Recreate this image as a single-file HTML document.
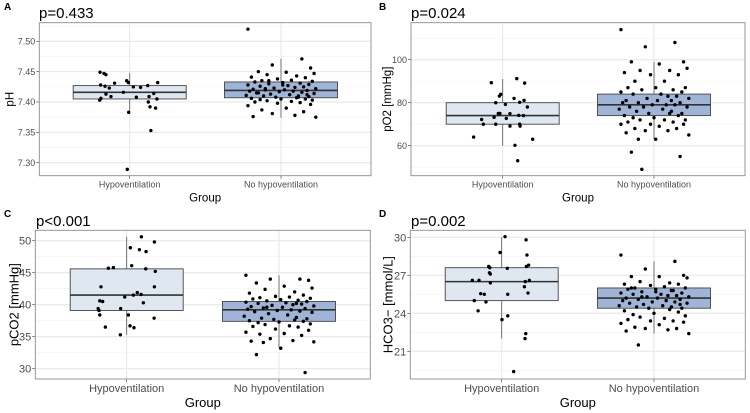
<!DOCTYPE html>
<html><head><meta charset="utf-8"><style>
body{margin:0;background:#fff;}
svg{display:block;font-family:"Liberation Sans",sans-serif;}
</style></head><body>
<svg id="c" width="750" height="413" viewBox="0 0 750 413"></svg>
<script>
const categories=["Hypoventilation","No hypoventilation"];
const jNo=[-0.19,0.12,-0.05,0.17,-0.13,0.03,0.19,-0.08,0.09,-0.17,0.14,-0.02,0.06,-0.11,0.18,-0.15,0.01,0.11,-0.07,0.16,-0.19,0.04,-0.12,0.13,0.08,-0.04,0.2,-0.16,0.02,-0.09,0.15,-0.18,0.07,-0.01,0.12,-0.14,0.19,-0.06,0.05,-0.2,0.1,-0.1,0.16,-0.03,0.09,-0.17,0.14,0.0,-0.12,0.18,-0.08,0.06,-0.15,0.11,-0.02,0.17,-0.19,0.03,-0.11,0.13,-0.05,0.08,-0.16,0.2,-0.09,0.01,-0.13,0.15,-0.07,0.1];
// Panel A
const aTicks=[7.30,7.35,7.40,7.45,7.50];
const aHypoVals=[7.449,7.447,7.445,7.428,7.426,7.423,7.431,7.435,7.432,7.425,7.424,7.427,7.432,7.416,7.413,7.409,7.406,7.403,7.408,7.414,7.409,7.405,7.400,7.392,7.390,7.383,7.353,7.289];
const aHypoJit=[-0.196,-0.17,-0.157,-0.192,-0.163,-0.135,-0.10,-0.02,-0.009,0.024,0.072,0.119,0.185,-0.042,-0.157,-0.124,-0.19,-0.198,0.044,0.159,0.128,0.18,0.123,0.134,0.171,-0.007,0.14,-0.016];
const aNoVals=[7.52,7.471,7.461,7.456,7.45,7.449,7.447,7.445,7.443,7.441,7.44,7.438,7.436,7.435,7.434,7.433,7.432,7.431,7.43,7.429,7.428,7.427,7.426,7.425,7.424,7.423,7.422,7.421,7.42,7.42,7.419,7.418,7.418,7.417,7.416,7.415,7.414,7.413,7.412,7.411,7.41,7.41,7.409,7.408,7.407,7.406,7.405,7.405,7.404,7.403,7.402,7.401,7.4,7.399,7.398,7.396,7.394,7.39,7.387,7.384,7.381,7.378,7.376,7.375,7.422,7.428,7.415,7.412,7.435,7.408];
const aStats=[[7.383,7.405,7.416,7.427,7.448],[7.374,7.407,7.419,7.433,7.471]];
// Panel B
const bTicks=[60,80,100];
const bHypoVals=[89.3,91.2,89.1,83.9,83.1,82,80,79.2,81.1,80.2,78,75,75,74.9,73.2,72.7,74.1,74,72.2,70,70,69.1,70,69.1,64,63,60.2,53];
const bHypoJit=[-0.075,0.093,0.145,-0.013,-0.022,0.075,-0.046,0.018,0.141,0.112,0.163,-0.029,-0.018,0.048,-0.057,0.024,0.106,0.137,-0.139,-0.128,-0.046,0.048,0.112,0.115,-0.192,0.198,0.081,0.099];
const bNoVals=[114,108,106,99,99,98,96,95,95,94,93,93,90,90,87,87,87,86,86,85,85,84,84,83,83,82,82,81,81,80,80,80,79,79,79,78,78,78,77,77,76,76,75,75,75,74,74,73,73,72,72,72,71,71,70,70,70,69,68,68,67,67,66,65,63,63,57,55,49,81];
const bStats=[[60,70,74,80,91],[63,74,79,84,99]];
// Panel C
const cTicks=[30,35,40,45,50];
const cHypoVals=[50.6,49.8,48.9,48.6,48.3,46.1,45.7,45.8,45.6,45.2,42.8,42.8,41.9,41.6,41.5,41.2,40.3,40.6,40.5,39.4,39.1,39.4,38.4,38.4,37.9,36.7,36.4,36.5,35.3];
const cHypoJit=[0.097,0.183,0.024,0.084,0.128,0.033,-0.121,-0.088,0.126,0.189,-0.17,0.183,0.07,0.095,0.044,-0.013,0.11,-0.178,-0.159,-0.189,-0.183,-0.04,-0.178,0.011,0.181,0.022,0.048,-0.141,-0.042];
const cNoVals=[44.6,44.0,44.0,43.8,43.4,42.9,42.6,42.4,42.0,41.8,41.5,41.3,41.2,41.1,41.0,40.9,40.8,40.7,40.6,40.5,40.4,40.3,40.2,40.1,40.0,39.9,39.8,39.7,39.6,39.5,39.4,39.3,39.2,39.1,39.0,38.9,38.8,38.6,38.4,38.2,38.0,37.9,37.8,37.7,37.6,37.5,37.4,37.3,37.2,37.0,36.9,36.7,36.6,36.5,36.2,36.0,35.7,35.5,35.4,35.2,34.7,34.4,34.3,34.2,34.1,33.2,32.2,29.4,39.6,40.2];
const cStats=[[35.3,39.1,41.5,45.6,50.6],[33.3,37.4,39.2,40.5,44.6]];
// Panel D
const dTicks=[21,24,27,30];
const dHypoVals=[30.05,29.8,28.8,28.6,27.7,27.6,27.55,27.8,27.7,27.2,27.1,26.4,26.6,26.6,26.6,26.5,26.1,25.6,25.55,25.5,25.5,25.0,24.9,24.2,23.8,23.5,22.4,22.0,19.4];
const dHypoJit=[0.022,0.161,-0.011,0.167,-0.086,-0.079,0.037,0.178,0.163,-0.081,-0.075,-0.075,-0.194,-0.15,0.183,0.156,0.15,0.174,-0.139,-0.115,0.04,-0.181,-0.104,-0.156,0.04,0.002,0.159,0.154,0.079];
const dNoVals=[28.6,28.1,27.5,27.0,26.9,26.9,26.8,26.5,26.4,26.3,26.3,26.2,26.1,26.0,26.0,25.9,25.9,25.8,25.7,25.6,25.6,25.5,25.5,25.4,25.4,25.3,25.3,25.2,25.2,25.1,25.1,25.0,25.0,24.9,24.9,24.8,24.8,24.7,24.6,24.6,24.5,24.5,24.4,24.4,24.3,24.2,24.1,24.0,23.9,23.8,23.7,23.6,23.5,23.4,23.4,23.3,23.2,23.1,22.9,22.8,22.8,22.7,22.6,22.4,21.5,25.7,26.0,24.7,25.3,25.8];
const dStats=[[22.0,25.0,26.5,27.6,30.0],[22.4,24.4,25.2,26.0,28.1]];

const NS="http://www.w3.org/2000/svg";
const svg=document.getElementById('c');
function mk(tag,attrs,parent,text){const e=document.createElementNS(NS,tag);for(const k in attrs)e.setAttribute(k,attrs[k]);if(text!==undefined)e.textContent=text;(parent||svg).appendChild(e);return e;}

const panels=[
 {id:'a',letter:'A',p:'p=0.433',ytitle:'pH',x0:39.3,x1:371,y0:22.7,y1:175.7,t1:7.50,py1:41.3,t2:7.30,py2:162.7,ticks:aTicks,dec:2,cats:[129.7,281],hv:aHypoVals,hj:aHypoJit,nv:aNoVals,stats:aStats,ly:10,tY:15,tf:9,af:11.5,xo:12,go:26,yo:26,lx:4,px:39},
 {id:'b',letter:'B',p:'p=0.024',ytitle:'pO2 [mmHg]',x0:411,x1:745,y0:22.7,y1:175.7,t1:100,py1:59.7,t2:60,py2:145.7,ticks:bTicks,dec:0,cats:[502.7,654],hv:bHypoVals,hj:bHypoJit,nv:bNoVals,stats:bStats,ly:10,tY:15,tf:9,af:11.5,xo:12,go:26,yo:20,lx:379,px:411},
 {id:'c',letter:'C',p:'p<0.001',ytitle:'pCO2 [mmHg]',x0:35.3,x1:370.3,y0:230.3,y1:379,t1:50,py1:240.7,t2:30,py2:368.7,ticks:cTicks,dec:0,cats:[126.7,279],hv:cHypoVals,hj:cHypoJit,nv:cNoVals,stats:cStats,ly:217,tY:223,tf:11,af:13,xo:13,go:28,yo:17,lx:4,px:36},
 {id:'d',letter:'D',p:'p=0.002',ytitle:'HCO3− [mmol/L]',x0:410.3,x1:745.3,y0:230.3,y1:379,t1:30,py1:237.3,t2:21,py2:351.3,ticks:dTicks,dec:0,cats:[501.7,654],hv:dHypoVals,hj:dHypoJit,nv:dNoVals,stats:dStats,ly:217,tY:223,tf:11,af:13,xo:13,go:28,yo:18,lx:379,px:411}
];
const CAT=151.3;
panels.forEach(P=>{
  const g=mk('g',{});
  
  
  const y=v=>P.py1+(v-P.t1)*(P.py2-P.py1)/(P.t2-P.t1);
  const x=(c,j)=>P.cats[c]+j*CAT;
  const lab=mk('text',{x:P.lx,y:P.ly,'font-size':10,'font-weight':'bold',fill:'#000'},g,P.letter);
  
  
  const pt=mk('text',{x:P.px,y:P.tY+3,'font-size':15,fill:'#000'},g,P.p);
  
  
  const step=P.ticks[1]-P.ticks[0];
  for(let k=-1;k<P.ticks.length+1;k++){
    const ym=y(P.ticks[0]+step*k+step/2);
    if(ym>P.y0&&ym<P.y1) mk('line',{x1:P.x0,x2:P.x1,y1:ym,y2:ym,stroke:'#f2f2f2','stroke-width':0.6},g);
  }
  P.ticks.forEach(t=>{
    const yy=y(t);
    mk('line',{x1:P.x0,x2:P.x1,y1:yy,y2:yy,stroke:'#e6e6e6','stroke-width':1},g);
    mk('line',{x1:P.x0-3,x2:P.x0,y1:yy,y2:yy,stroke:'#333','stroke-width':0.6},g);
    const tl=mk('text',{x:P.x0-4,y:yy+P.tf*0.36,'font-size':P.tf,fill:'#4d4d4d','text-anchor':'end'},g,t.toFixed(P.dec));
    
    
  });
  categories.forEach((c,i)=>{
    const cx=P.cats[i];
    mk('line',{x1:cx,x2:cx,y1:P.y0,y2:P.y1,stroke:'#e6e6e6','stroke-width':1},g);
    mk('line',{x1:cx,x2:cx,y1:P.y1,y2:P.y1+3,stroke:'#333','stroke-width':0.6},g);
    const xl=mk('text',{x:cx,y:P.y1+P.xo,'font-size':P.tf,fill:'#4d4d4d','text-anchor':'middle'},g,c);
    
    
    const s=P.stats[i];
    const wh=mk('line',{x1:cx,x2:cx,y1:y(s[0]),y2:y(s[4]),stroke:'#555','stroke-width':0.8},g);
    
    
    const bx=mk('rect',{x:cx-56.5,width:113,y:y(s[3]),height:y(s[1])-y(s[3]),fill:i===0?'#dfe7f1':'#9fb4d6',stroke:'#444','stroke-width':0.9},g);
    
    
    const md=mk('line',{x1:cx-56.5,x2:cx+56.5,y1:y(s[2]),y2:y(s[2]),stroke:'#333','stroke-width':1.6},g);
    
    
  });
  P.hv.forEach((v,k)=>{
    const c=mk('circle',{cx:x(0,P.hj[k]),cy:y(v),r:1.7,fill:'#000'},g);
    
    
  });
  P.nv.forEach((v,k)=>{
    const c=mk('circle',{cx:x(1,jNo[k%jNo.length]*1.15),cy:y(v),r:1.7,fill:'#000'},g);
    
    
  });
  const fr=mk('rect',{x:P.x0,y:P.y0,width:P.x1-P.x0,height:P.y1-P.y0,fill:'none',stroke:'#8c8c8c','stroke-width':0.9},g);
  
  
  const xt=mk('text',{x:(P.x0+P.x1)/2,y:P.y1+P.go,'font-size':P.af,fill:'#000','text-anchor':'middle'},g,'Group');
  
  
  const ytx=P.x0-P.yo;
  const yt=mk('text',{x:ytx,y:(P.y0+P.y1)/2,'font-size':P.af,fill:'#000','text-anchor':'middle',transform:'rotate(-90 '+ytx+' '+(P.y0+P.y1)/2+')'},g,P.ytitle);
  
  
});
</script>
</body></html>
